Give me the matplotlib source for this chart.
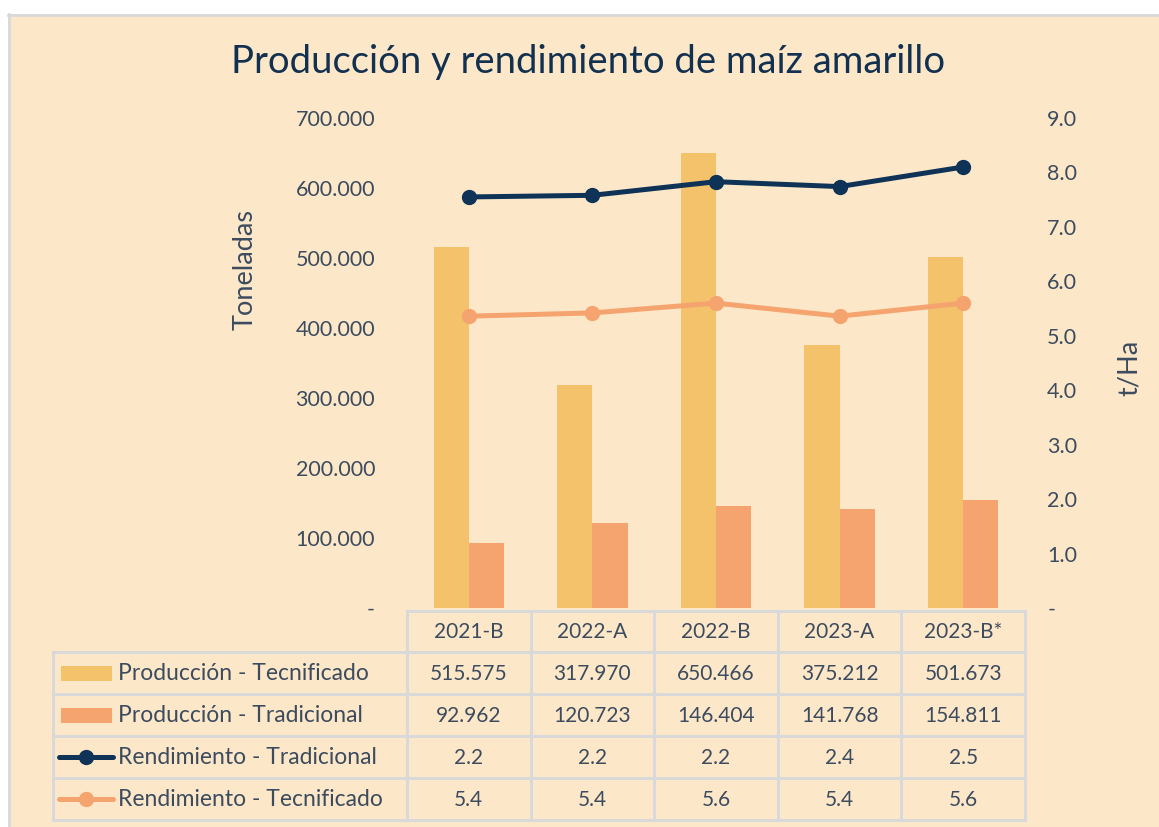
import matplotlib
matplotlib.use('Agg')
import matplotlib.pyplot as plt
import matplotlib.transforms as mtransforms
from matplotlib.patches import Rectangle
from matplotlib.lines import Line2D
from matplotlib.ticker import FuncFormatter
import numpy as np

# ---------------- data ----------------
categories = ['2021-B', '2022-A', '2022-B', '2023-A', '2023-B*']
prod_tec = [515575, 317970, 650466, 375212, 501673]
prod_trad = [92962, 120723, 146404, 141768, 154811]
rend_trad = [2.19, 2.16, 2.23, 2.38, 2.50]
rend_tec = [5.36, 5.42, 5.60, 5.36, 5.60]
row_labels = ['Producción - Tecnificado', 'Producción - Tradicional',
              'Rendimiento - Tradicional', 'Rendimiento - Tecnificado']
title = 'Producción y rendimiento de maíz amarillo'

# ---------------- style ----------------
BG = '#FCE8C9'
C_TEC = '#F3C26B'
C_TRAD = '#F6A46F'
C_NAVY = '#0E3357'
C_LINE_OR = '#F6A46F'
TXT = '#3C4B5E'
TITLE_C = '#12304F'
GRID = '#D9D9D9'
FONT = 'Lato'
plt.rcParams['font.family'] = [FONT, 'DejaVu Sans']

W, H = 1159, 827
fig = plt.figure(figsize=(W / 100, H / 100), dpi=100)
fig.patch.set_facecolor('white')
fig.patches.append(Rectangle((8 / W, 0), 1 - 8 / W, 1 - 14 / H, transform=fig.transFigure,
                             facecolor=BG, edgecolor='none', zorder=-10))
fig.add_artist(Line2D([9 / W, 9 / W], [0, 1 - 14 / H], color=GRID, lw=2, zorder=-5))
fig.add_artist(Line2D([8 / W, 1], [1 - 15 / H, 1 - 15 / H], color=GRID, lw=2, zorder=-5))

fig.text(588 / W, 1 - 62 / H, title, ha='center', va='center', fontsize=27.5, color=TITLE_C)

# ---------------- main axes ----------------
ax = fig.add_axes([407 / W, (H - 608) / H, 618 / W, 490 / H])
ax.set_facecolor('none')
for s in ax.spines.values():
    s.set_visible(False)
x = np.arange(len(categories))
bw = 0.285
ax.bar(x - bw / 2, prod_tec, bw, color=C_TEC, zorder=2)
ax.bar(x + bw / 2, prod_trad, bw, color=C_TRAD, zorder=2)
ax.set_xlim(-0.5, len(categories) - 0.5)
ax.set_ylim(0, 700000)
ax.set_xticks([])
ax.set_yticks(np.arange(0, 700001, 100000))
ax.yaxis.set_major_formatter(FuncFormatter(
    lambda v, p: '-' if v == 0 else f'{int(v):,}'.replace(',', '.')))
ax.tick_params(axis='y', length=0, pad=23, labelsize=15.5, labelcolor=TXT)
ax.set_ylabel('Toneladas', fontsize=19.5, color=TXT)
ax.yaxis.set_label_coords(-0.241, 0.69)

ax2 = ax.twinx()
ax2.set_facecolor('none')
for s in ax2.spines.values():
    s.set_visible(False)
stack_trad = np.array(rend_tec) + np.array(rend_trad)
ax2.plot(x, rend_tec, color=C_LINE_OR, lw=3.6, marker='o', ms=10, zorder=3)
ax2.plot(x, stack_trad, color=C_NAVY, lw=3.6, marker='o', ms=10, zorder=3)
ax2.set_ylim(0, 9)
ax2.set_yticks(np.arange(0, 9.01, 1))
ax2.yaxis.set_major_formatter(FuncFormatter(lambda v, p: '-' if v == 0 else f'{v:.1f}'))
ax2.tick_params(axis='y', length=0, pad=16, labelsize=15.5, labelcolor=TXT)
ax2.set_ylabel('t/Ha', fontsize=19.5, color=TXT, rotation=90)
ax2.yaxis.set_label_coords(1.149, 0.49)

# ---------------- data table ----------------
tax = fig.add_axes([0, 0, 1, 1])
tax.set_xlim(0, W)
tax.set_ylim(H, 0)
tax.axis('off')
tax.set_facecolor('none')
trans = mtransforms.blended_transform_factory(ax.transData, tax.transData)

top, hdr_bot, row_h = 611, 652, 42
rows_y = [hdr_bot + row_h * i for i in range(5)]
left_px, split_px = 53, 407
lkw = dict(color=GRID, lw=2.2, solid_capstyle='projecting')
tax.plot([-0.5, len(categories) - 0.5], [top, top], transform=trans, **lkw)
for yy in rows_y:
    tax.plot([left_px, split_px], [yy, yy], **lkw)
    tax.plot([-0.5, len(categories) - 0.5], [yy, yy], transform=trans, **lkw)
for b in np.arange(-0.5, len(categories), 1.0):
    tax.plot([b, b], [top, rows_y[-1]], transform=trans, **lkw)
tax.plot([left_px, left_px], [hdr_bot, rows_y[-1]], **lkw)

tkw = dict(ha='center', va='center', fontsize=15, color=TXT)
for i, c in enumerate(categories):
    tax.text(i, (top + hdr_bot) / 2 + 1, c, transform=trans, **tkw)

fmt_prod = lambda v: f'{v:,}'.replace(',', '.')
series_vals = [[fmt_prod(v) for v in prod_tec], [fmt_prod(v) for v in prod_trad],
               [f'{v:.1f}' for v in rend_trad], [f'{v:.1f}' for v in rend_tec]]
for r in range(4):
    yc = rows_y[r] + row_h / 2 + 1
    for i, s in enumerate(series_vals[r]):
        tax.text(i, yc, s, transform=trans, **tkw)
    tax.text(118, yc, row_labels[r], ha='left', va='center', fontsize=16.5, color=TXT)

sym_y = [rows_y[r] + row_h / 2 for r in range(4)]
tax.add_patch(Rectangle((61, sym_y[0] - 7.5), 51, 15, facecolor=C_TEC, edgecolor='none'))
tax.add_patch(Rectangle((61, sym_y[1] - 7.5), 51, 15, facecolor=C_TRAD, edgecolor='none'))
tax.plot([59, 113], [sym_y[2], sym_y[2]], color=C_NAVY, lw=3.6, solid_capstyle='round')
tax.plot([86], [sym_y[2]], marker='o', ms=10, color=C_NAVY)
tax.plot([59, 113], [sym_y[3], sym_y[3]], color=C_LINE_OR, lw=3.6, solid_capstyle='round')
tax.plot([86], [sym_y[3]], marker='o', ms=10, color=C_LINE_OR)

fig.savefig('out.png', dpi=100, facecolor=fig.get_facecolor())
